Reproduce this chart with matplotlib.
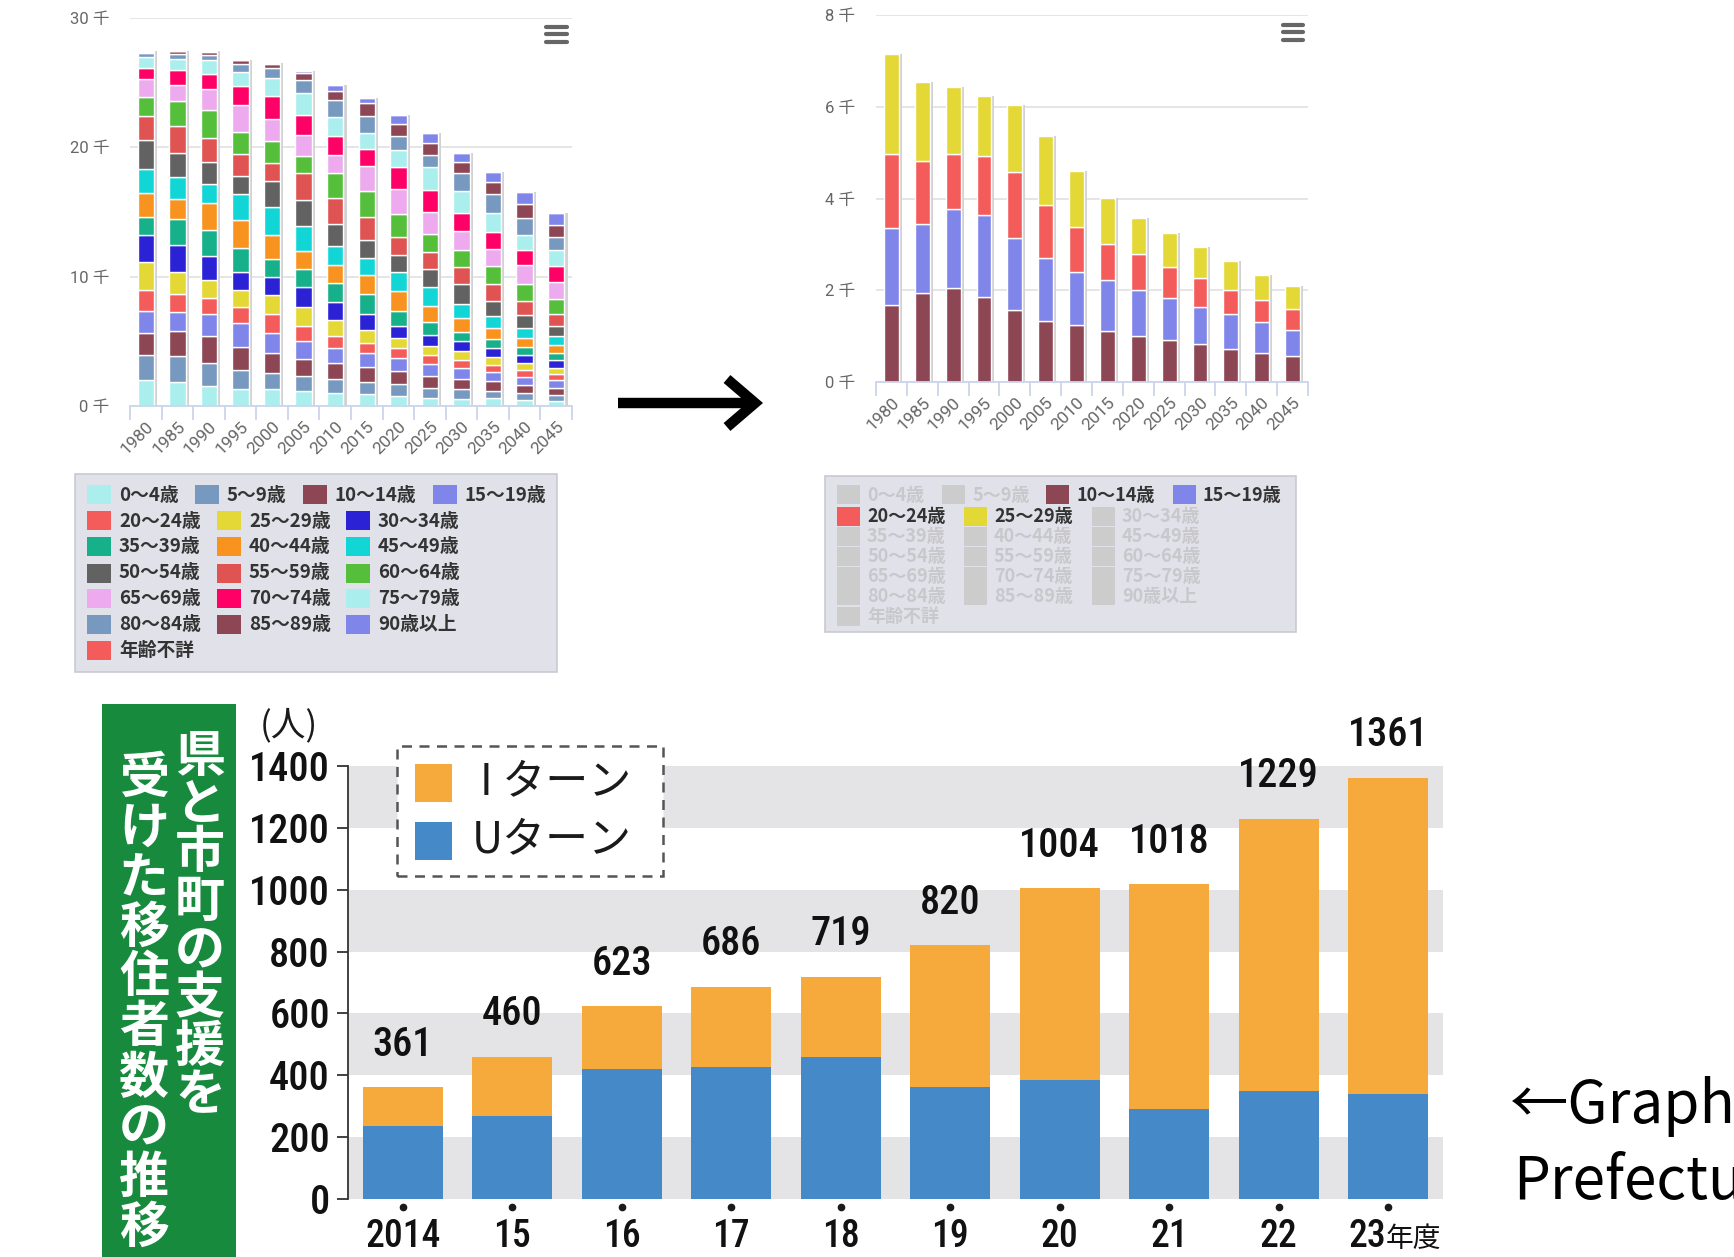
import matplotlib
matplotlib.use('Agg')
import matplotlib.pyplot as plt
from matplotlib.patches import Rectangle
from matplotlib.lines import Line2D
from matplotlib import font_manager as fm
import numpy as np

W, H = 1734, 1257

def fx(x):
    return x / W

def fy(y):
    return 1 - y / H

CJK = 'Noto Sans CJK JP'
names = {f.name for f in fm.fontManager.ttflist}
narrow_cands = ['Roboto Condensed', 'Liberation Sans Narrow', 'Noto Sans Condensed',
                'Open Sans Condensed', 'DejaVu Sans Condensed']
NARROW = next((c for c in narrow_cands if c in names), 'Roboto')
NUM_SIZE = 29 if NARROW != 'Roboto' else 26
plt.rcParams['font.family'] = [CJK, 'DejaVu Sans']

# ---- population by age group (thousands) ----
years = ['1980', '1985', '1990', '1995', '2000', '2005', '2010',
         '2015', '2020', '2025', '2030', '2035', '2040', '2045']
age_labels = ['0～4歳', '5～9歳', '10～14歳', '15～19歳', '20～24歳', '25～29歳',
              '30～34歳', '35～39歳', '40～44歳', '45～49歳', '50～54歳', '55～59歳',
              '60～64歳', '65～69歳', '70～74歳', '75～79歳', '80～84歳', '85～89歳',
              '90歳以上', '年齢不詳']
age_colors = ['#aaeeee', '#7798bf', '#8d4654', '#8085e9', '#f45b5b', '#e4d836',
              '#2b22d6', '#16b08a', '#f8931f', '#12d6d6', '#626262', '#df5353',
              '#55bf3b', '#eeaaee', '#ff0066', '#aaeeee', '#7798bf', '#8d4654',
              '#8085e9', '#f45b5b']

a0_4 = [2.02, 1.89, 1.55, 1.30, 1.29, 1.16, 1.03, 0.90, 0.77, 0.64, 0.57, 0.59, 0.46, 0.41]
a5_9 = [1.94, 1.94, 1.81, 1.45, 1.24, 1.16, 1.03, 0.98, 0.93, 0.77, 0.72, 0.59, 0.52, 0.44]
a10_14 = [1.67, 1.94, 2.04, 1.85, 1.56, 1.32, 1.24, 1.11, 1.01, 0.92, 0.82, 0.73, 0.63, 0.56]
a15_19 = [1.68, 1.51, 1.73, 1.79, 1.58, 1.39, 1.15, 1.12, 1.00, 0.91, 0.82, 0.75, 0.67, 0.57]
a20_24 = [1.63, 1.37, 1.21, 1.28, 1.43, 1.14, 0.99, 0.77, 0.77, 0.68, 0.62, 0.53, 0.49, 0.46]
a25_29 = [2.16, 1.73, 1.44, 1.31, 1.47, 1.51, 1.22, 1.01, 0.80, 0.74, 0.69, 0.62, 0.55, 0.51]
a30_34 = [2.12, 2.10, 1.81, 1.37, 1.39, 1.55, 1.39, 1.24, 0.90, 0.85, 0.77, 0.67, 0.59, 0.57]
a35_39 = [1.42, 2.00, 2.02, 1.89, 1.37, 1.37, 1.44, 1.52, 1.16, 0.95, 0.70, 0.70, 0.62, 0.57]
a40_44 = [1.81, 1.55, 2.12, 2.12, 1.93, 1.42, 1.39, 1.49, 1.55, 1.29, 1.11, 0.82, 0.72, 0.59]
a45_49 = [1.89, 1.68, 1.42, 2.02, 2.14, 1.86, 1.49, 1.34, 1.47, 1.47, 1.03, 0.98, 0.77, 0.77]
a50_54 = [2.20, 1.87, 1.68, 1.40, 1.98, 2.06, 1.68, 1.37, 1.29, 1.37, 1.55, 1.16, 1.03, 0.77]
a55_59 = [1.92, 2.10, 1.87, 1.68, 1.42, 2.06, 2.01, 1.80, 1.42, 1.29, 1.34, 1.29, 1.03, 0.90]
a60_64 = [1.42, 1.94, 2.15, 1.76, 1.68, 1.34, 1.98, 1.98, 1.75, 1.42, 1.34, 1.42, 1.37, 1.16]
a65_69 = [1.37, 1.22, 1.68, 2.07, 1.68, 1.62, 1.37, 1.93, 1.98, 1.73, 1.44, 1.29, 1.47, 1.34]
a70_74 = [0.85, 1.11, 1.17, 1.48, 1.80, 1.55, 1.47, 1.29, 1.68, 1.68, 1.39, 1.29, 1.16, 1.24]
a75_79 = [0.88, 0.91, 1.04, 1.06, 1.37, 1.68, 1.47, 1.29, 1.34, 1.75, 1.75, 1.47, 1.16, 1.21]
a80_84 = [0.28, 0.39, 0.39, 0.62, 0.77, 0.98, 1.31, 1.29, 1.03, 0.98, 1.34, 1.49, 1.29, 1.03]
a85_89 = [0.12, 0.18, 0.26, 0.28, 0.31, 0.57, 0.70, 0.98, 0.93, 0.88, 0.85, 0.90, 1.08, 0.93]
a90_up = [0.03, 0.05, 0.08, 0.05, 0.10, 0.18, 0.44, 0.39, 0.70, 0.77, 0.70, 0.82, 0.93, 0.88]
a_unknown = [0, 0, 0, 0, 0, 0, 0, 0, 0, 0, 0, 0, 0, 0]

all_ages = [a0_4, a5_9, a10_14, a15_19, a20_24, a25_29, a30_34, a35_39, a40_44,
            a45_49, a50_54, a55_59, a60_64, a65_69, a70_74, a75_79, a80_84,
            a85_89, a90_up, a_unknown]
young_idx = [2, 3, 4, 5]   # series left visible in the second chart

# ---- migrants supported by prefecture and towns ----
fiscal = ['2014', '15', '16', '17', '18', '19', '20', '21', '22', '23']
totals = [361, 460, 623, 686, 719, 820, 1004, 1018, 1229, 1361]
u_turn = [235, 268, 420, 428, 458, 362, 386, 292, 350, 340]
i_turn = [t - u for t, u in zip(totals, u_turn)]

fig = plt.figure(figsize=(W / 100, H / 100), dpi=100)


def stacked(ax, series, colors, width, ymax, step):
    x = np.arange(len(years))
    tot = np.sum(np.array(series), axis=0)
    ax.bar(x + 0.1, tot, width, color='#d2d2d2', zorder=1)
    bottom = np.zeros(len(years))
    for vals, c in zip(series, colors):
        ax.bar(x, vals, width, bottom=bottom, color=c, edgecolor='white',
               linewidth=1, zorder=2)
        bottom += np.array(vals)
    ax.set_xlim(-0.5, len(years) - 0.5)
    ax.set_ylim(0, ymax)
    ticks = np.arange(0, ymax + 1, step)
    ax.set_yticks(ticks)
    ax.set_yticklabels([f'{t} 千' for t in ticks], family=['Roboto', CJK],
                       fontsize=12, color='#666666')
    ax.yaxis.grid(True, color='#e3e3e3', lw=1.3)
    ax.set_axisbelow(True)
    for s in ['top', 'right', 'left']:
        ax.spines[s].set_visible(False)
    ax.spines['bottom'].set_color('#ccd6eb')
    ax.spines['bottom'].set_linewidth(1.3)
    ax.tick_params(axis='y', length=0, pad=15)
    ax.set_xticks(x)
    ax.set_xticklabels(years, rotation=45, ha='right', rotation_mode='anchor',
                       family='Roboto', fontsize=12.5, color='#666666')
    ax.tick_params(axis='x', which='major', length=0, pad=9)
    ax.set_xticks(np.arange(-0.5, len(years), 1), minor=True)
    ax.tick_params(axis='x', which='minor', length=10, color='#ccd6eb', width=1.3)
    ax.patch.set_alpha(0)


ax1 = fig.add_axes([fx(130), fy(406), 442 / W, 388 / H])
stacked(ax1, all_ages, age_colors, 0.52, 30, 10)

ax2 = fig.add_axes([fx(876), fy(382), 432 / W, 367 / H])
stacked(ax2, [all_ages[i] for i in young_idx], [age_colors[i] for i in young_idx],
        0.48, 8, 2)


def hamburger(x0, x1, ys):
    for y in ys:
        fig.add_artist(Line2D([fx(x0), fx(x1)], [fy(y), fy(y)], lw=3,
                              color='#666666', solid_capstyle='round'))


hamburger(546, 567, [27, 34, 42])
hamburger(1283, 1303, [25, 32, 40])


def legend_box(box, row1_x, rest_x, rows_y, sw, txt_dx, size, active):
    x0, y0, x1, y1 = box
    fig.add_artist(Rectangle((fx(x0), fy(y1)), (x1 - x0) / W, (y1 - y0) / H,
                             transform=fig.transFigure, facecolor='#e1e1e9',
                             edgecolor='#cacad2', lw=1.2))
    for k, (lab, col) in enumerate(zip(age_labels, age_colors)):
        if k < 4:
            sx, ry = row1_x[k], rows_y[0]
        else:
            sx, ry = rest_x[(k - 4) % 3], rows_y[1 + (k - 4) // 3]
        on = active is None or k in active
        fc = col if on else '#cccccc'
        tc = '#333333' if on else '#c8c8cc'
        fig.add_artist(Rectangle((fx(sx), fy(ry + sw[1] / 2)), sw[0] / W, sw[1] / H,
                                 transform=fig.transFigure, facecolor=fc, lw=0))
        fig.text(fx(sx + txt_dx), fy(ry), lab, fontsize=size, weight='bold',
                 color=tc, va='center', ha='left')


legend_box((75, 474, 557, 672), [87, 195, 303, 433], [87, 217, 346],
           [495, 521, 547, 573, 598, 624, 650], (24, 19), 32, 13.5, None)
legend_box((825, 476, 1296, 632), [837, 942, 1046, 1173], [837, 964, 1092],
           [495, 516, 536, 556, 576, 596, 616], (23, 19), 30, 13, young_idx)

# big arrow between the two charts
fig.add_artist(Line2D([fx(618), fx(752)], [fy(403), fy(403)], lw=7.5,
                      color='black', solid_capstyle='butt'))
fig.add_artist(Line2D([fx(727), fx(755), fx(727)], [fy(379), fy(403), fy(427)],
                      lw=7.5, color='black', solid_joinstyle='miter',
                      solid_capstyle='butt'))

# ---- bottom newspaper chart ----
fig.add_artist(Rectangle((fx(102), 0), (236 - 102) / W, (1257 - 704) / H,
                         transform=fig.transFigure, color='#178a3e', lw=0))
title_r = '県と市町の支援を'
title_l = '受けた移住者数の推移'
for k, ch in enumerate(title_r):
    fig.text(fx(200), fy(757 + k * 48.4), ch, fontsize=36, weight='bold',
             color='white', ha='center', va='center')
for k, ch in enumerate(title_l):
    fig.text(fx(144), fy(778 + k * 50), ch, fontsize=36, weight='bold',
             color='white', ha='center', va='center')

fig.text(fx(289), fy(726), '(人)', fontsize=25, ha='center', va='center',
         color='#1a1a1a')

ax3 = fig.add_axes([fx(348), fy(1199), 1095 / W, 433 / H])
xb = np.arange(len(fiscal))
for k in range(0, 7, 2):
    ax3.axhspan(k * 200, k * 200 + 200, color='#e4e4e6', lw=0, zorder=0)
ax3.bar(xb, u_turn, 0.73, color='#4589c8', zorder=2)
ax3.bar(xb, i_turn, 0.73, bottom=u_turn, color='#f6aa3c', zorder=2)
for i, t in enumerate(totals):
    ax3.annotate(str(t), (i, t), xytext=(0, 17), textcoords='offset points',
                 ha='center', va='bottom', fontsize=NUM_SIZE, family=NARROW,
                 weight='medium', color='#111111')
ax3.set_xlim(-0.5, len(fiscal) - 0.5)
ax3.set_ylim(0, 1400)
ax3.set_yticks(range(0, 1401, 200))
ax3.set_yticklabels([str(v) for v in range(0, 1401, 200)], family=NARROW,
                    weight='medium', fontsize=NUM_SIZE, color='#111111')
ax3.tick_params(axis='y', length=8, width=1.3, color='#333333', pad=5)
ax3.set_xticks([])
for s in ['top', 'right', 'bottom']:
    ax3.spines[s].set_visible(False)
ax3.spines['left'].set_color('#333333')
ax3.spines['left'].set_linewidth(1.3)
ax3.spines['left'].set_bounds(0, 1400)
xt = ax3.get_xaxis_transform()
ax3.plot(xb, [-0.019] * len(xb), 'o', ms=4.5, color='#1a1a1a', transform=xt,
         clip_on=False)
lab_y = -0.111
lab_size = NUM_SIZE - 2
for i, lab in enumerate(fiscal):
    if i == len(fiscal) - 1:
        ax3.text(i - 0.02, lab_y, lab, transform=xt, ha='right', va='baseline',
                 fontsize=lab_size, family=NARROW, weight='medium',
                 color='#111111', clip_on=False)
        ax3.text(i - 0.02, lab_y, '年度', transform=xt, ha='left', va='baseline',
                 fontsize=20, color='#111111', clip_on=False)
    else:
        ax3.text(i, lab_y, lab, transform=xt, ha='center', va='baseline',
                 fontsize=lab_size, family=NARROW, weight='medium',
                 color='#111111', clip_on=False)

# dashed legend
fig.add_artist(Rectangle((fx(397), fy(876)), (663 - 397) / W, (876 - 746) / H,
                         transform=fig.transFigure, facecolor='white',
                         edgecolor='#555555', lw=1.8, ls=(0, (4, 3))))
fig.add_artist(Rectangle((fx(415), fy(802)), 37 / W, 38 / H,
                         transform=fig.transFigure, color='#f6aa3c', lw=0))
fig.add_artist(Rectangle((fx(415), fy(860)), 37 / W, 38 / H,
                         transform=fig.transFigure, color='#4589c8', lw=0))
fig.text(fx(480), fy(782), 'I ターン', fontsize=31, va='center', ha='left',
         color='#1a1a1a')
fig.text(fx(472), fy(840), 'Uターン', fontsize=31, va='center', ha='left',
         color='#1a1a1a')

# note on the right, cut at the edge as in the source
fig.text(fx(1510), fy(1123), '←Graph', fontsize=42, va='baseline', ha='left',
         color='black')
fig.text(fx(1513), fy(1199), 'Prefecture', fontsize=42, va='baseline', ha='left',
         color='black')

fig.savefig('out.png', dpi=100)
